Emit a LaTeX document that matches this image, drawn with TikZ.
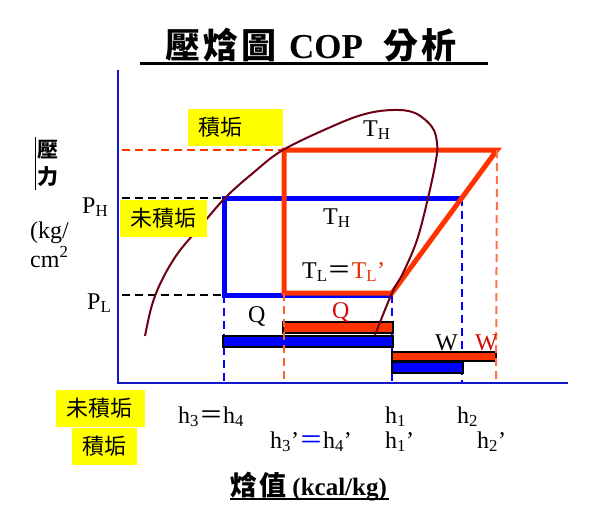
\documentclass[tikz,border=0pt]{standalone}
\usepackage{fontspec}
\setmainfont{Liberation Serif}
\newfontfamily\cjk{Noto Sans CJK TC}
\usetikzlibrary{positioning}

\definecolor{cycred}{RGB}{255,51,0}
\definecolor{cycblue}{RGB}{0,0,255}
\definecolor{axblue}{RGB}{20,20,200}
\definecolor{dome}{RGB}{110,0,20}
\definecolor{lblred}{RGB}{215,10,10}
\definecolor{tagyellow}{RGB}{255,255,0}

\newcommand{\fweq}{{\cjk ＝}}

\tikzset{
  lbl/.style={inner sep=0pt, anchor=base west, font=\fontsize{24}{26}\selectfont},
  cjklbl/.style={inner sep=0pt, anchor=base west, font=\cjk\fontsize{21}{24}\selectfont},
  tag/.style={fill=tagyellow, inner xsep=10pt, inner ysep=0pt, minimum height=37pt,
    align=left, anchor=west, font=\cjk\fontsize{22}{24}\selectfont},
  bar/.style={draw=black, line width=1.5pt},
  cycline/.style={line width=5pt, line join=miter},
  guide/.style={dashed, dash pattern=on 8pt off 5pt, line width=2pt},
}

\begin{document}
\begin{tikzpicture}[x=1pt, y=-1pt]
  \useasboundingbox (0,0) rectangle (601,530);

  % Title
  \node[inner sep=0pt, anchor=base west, font=\bfseries\fontsize{35}{38}\selectfont] (title) at (165,58)
    {{\cjk 壓\kern3pt 焓\kern3pt 圖}\hspace*{13pt}COP\hspace*{20pt}{\cjk 分\kern3pt 析}};
  \draw[line width=3pt] (140,63) -- (488,63);

  % Cycle points
  \coordinate (b1) at (392,295);
  \coordinate (b2) at (462,198);
  \coordinate (b3) at (224,198);
  \coordinate (b4) at (224,295);
  \coordinate (r1) at (392,293);
  \coordinate (r2) at (497,150);
  \coordinate (r3) at (284,150);
  \coordinate (r4) at (284,293);

  % Guide lines
  \draw[guide, cycred] (122,150) -- (r3);
  \draw[guide, black, line width=2.5pt] (122,198) -- (b3);
  \draw[guide, black, line width=2.5pt] (122,295) -- (b4);
  \draw[guide, cycblue] (b4) -- (224,383);
  \draw[guide, cycblue] (b1) -- (392,383);
  \draw[guide, cycblue] (b2) -- (462,383);

  % Axes
  \draw[axblue, line width=2pt] (118,70) -- (118,383) -- (568,383);

  % Clean cycle (blue)
  \draw[cycline, cycblue] (b2) -- (b3) -- (b4) -- (b1);

  % Fouled cycle (red)
  \draw[cycline, cycred] (r1) -- (r2) -- (r3) -- (r4) -- cycle;

  % Bars for Q and W
  \filldraw[bar, fill=cycred] (283,322) rectangle (393,333);
  \filldraw[bar, fill=cycblue] (223,336) rectangle (393,347);
  \filldraw[bar, fill=cycred] (392,352) rectangle (496,361);
  \filldraw[bar, fill=cycblue] (392,362) rectangle (463,373);

  \draw[guide, cycred!80] (r4) -- (284,383);
  \draw[guide, cycred!70] (r2) -- (496,383);

  % Saturation dome
  \draw[dome, line width=2pt] plot[smooth, tension=0.6] coordinates {
    (145,336) (152,305) (162,280) (178,253) (200,227) (225,198) (253,173)
    (283,150) (333,126) (365,114) (393,110) (415,113) (432,127) (437,143)
    (436,160) (428,198) (417,240) (403,273) (392,293) (375,335)};

  % Labels in the chart
  \node[lbl] (thtop) at (363,136) {T\textsubscript{H}};
  \node[lbl] (thmid) at (323,224) {T\textsubscript{H}};
  \node[lbl] (tl) at (302,278) {T\textsubscript{L}\fweq\textcolor{cycred!90!black}{T\textsubscript{L}’}};
  \node[lbl] (qclean) at (248,322) {Q};
  \node[lbl, text=lblred] (qfoul) at (332,318) {Q};
  \node[lbl] (wclean) at (435,350) {W};
  \node[lbl, text=lblred] (wfoul) at (475,350) {W};

  % Tags
  \node[tag, text width=75pt] (tagfoul) at (188,127.5) {積垢};
  \node[tag, text width=67pt] (tagclean) at (120,218.5) {未積垢};

  % Pressure axis
  \draw[black, line width=1pt] (35,137) -- (35,190);
  \node[cjklbl, font=\cjk\bfseries\fontsize{21}{24}\selectfont] (pa) at (37,157) {壓};
  \node[cjklbl, font=\cjk\bfseries\fontsize{21}{24}\selectfont] (pb) at (37,184) {力};
  \node[lbl] (unita) at (30,238) {(kg/};
  \node[lbl] (unitb) at (30,267) {cm\textsuperscript{2}};
  \node[lbl] (ph) at (82,213) {P\textsubscript{H}};
  \node[lbl] (pl) at (87,309) {P\textsubscript{L}};

  % Enthalpy axis
  \node[tag, text width=69pt, inner xsep=10pt] (tagclean2) at (56,408.5) {未積垢};
  \node[tag, text width=45pt] (tagfoul2) at (72,446) {積垢};
  \node[lbl] (h34) at (178,423) {h\textsubscript{3}\fweq h\textsubscript{4}};
  \node[lbl] (h34f) at (270,448) {h\textsubscript{3}’\textcolor{cycblue}{\fweq}h\textsubscript{4}’};
  \node[lbl] (h1) at (385,423) {h\textsubscript{1}};
  \node[lbl] (h2) at (457,423) {h\textsubscript{2}};
  \node[lbl] (h1f) at (385,448) {h\textsubscript{1}’};
  \node[lbl] (h2f) at (477,448) {h\textsubscript{2}’};
  \node[inner sep=0pt, anchor=base west, font=\bfseries\fontsize{25}{28}\selectfont] (xlabel) at (230,495)
    {{\cjk\fontsize{27}{28}\selectfont 焓\kern2pt 值} (kcal/kg)};
  \draw[line width=2pt] (230,499) -- (389,499);
\end{tikzpicture}
\end{document}
